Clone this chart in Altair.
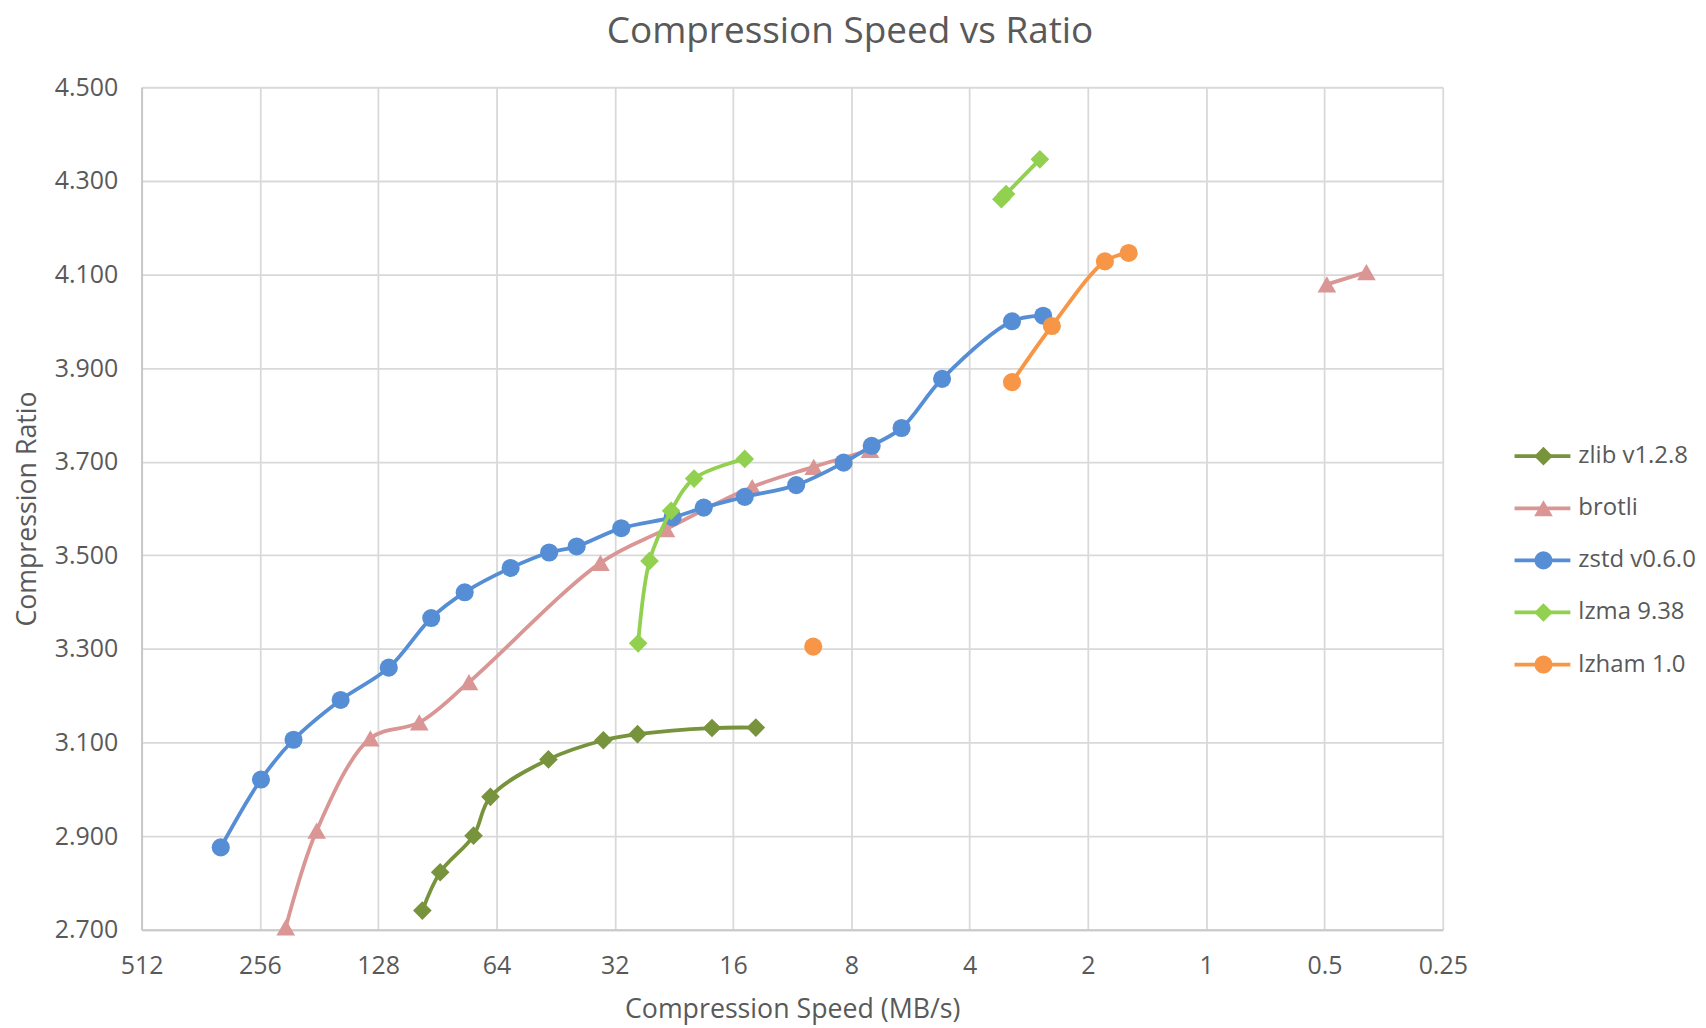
import altair as alt
import pandas as pd

SERIES = ["zlib v1.2.8", "brotli", "zstd v0.6.0", "lzma 9.38", "lzham 1.0"]
COLORS = ["#77933C", "#DA9694", "#558ED5", "#92D050", "#F79646"]
SHAPES = ["diamond", "triangle-up", "circle", "diamond", "circle"]
SIZES = [350, 350, 330, 350, 330]

zlib_speed = [98.8, 89.0, 73.2, 66.3, 47.2, 34.2, 28.0, 18.1, 14.0]
zlib_ratio = [2.741, 2.823, 2.901, 2.984, 3.064, 3.105, 3.118, 3.131, 3.132]
zlib_seg = [0, 0, 0, 0, 0, 0, 0, 0, 0]

brotli_speed = [220.0, 183.5, 134.0, 100.6, 75.2, 34.8, 23.7, 14.3, 9.97, 7.17, 0.493, 0.391]
brotli_ratio = [2.705, 2.912, 3.109, 3.143, 3.229, 3.484, 3.556, 3.646, 3.689, 3.725, 4.079, 4.105]
brotli_seg = [0, 0, 0, 0, 0, 0, 0, 0, 0, 0, 1, 1]

zstd_speed = [322.0, 254.4, 210.2, 159.5, 120.3, 93.8, 77.1, 58.9, 47.0, 40.0, 30.8,
              22.8, 19.0, 14.94, 11.05, 8.37, 7.1, 5.96, 4.7, 3.12, 2.60]
zstd_ratio = [2.876, 3.021, 3.106, 3.191, 3.260, 3.366, 3.421, 3.473, 3.506, 3.519, 3.558,
              3.581, 3.602, 3.625, 3.650, 3.698, 3.734, 3.772, 3.877, 4.000, 4.012]
zstd_seg = [0] * 21

lzma_speed = [27.9, 26.1, 23.0, 20.1, 14.94, 3.32, 3.23, 2.65]
lzma_ratio = [3.312, 3.488, 3.595, 3.664, 3.706, 4.261, 4.272, 4.346]
lzma_seg = [0, 0, 0, 0, 0, 1, 1, 1]

lzham_speed = [10.0, 3.12, 2.47, 1.81, 1.575]
lzham_ratio = [3.305, 3.870, 3.990, 4.128, 4.146]
lzham_seg = [0, 1, 1, 1, 1]

X_TICKS = [512, 256, 128, 64, 32, 16, 8, 4, 2, 1, 0.5, 0.25]
Y_TICKS = [2.7, 2.9, 3.1, 3.3, 3.5, 3.7, 3.9, 4.1, 4.3, 4.5]

FONT = "Open Sans"
TEXT = "#595959"

rows = []
for name, sp, ra, sg in [
    (SERIES[0], zlib_speed, zlib_ratio, zlib_seg),
    (SERIES[1], brotli_speed, brotli_ratio, brotli_seg),
    (SERIES[2], zstd_speed, zstd_ratio, zstd_seg),
    (SERIES[3], lzma_speed, lzma_ratio, lzma_seg),
    (SERIES[4], lzham_speed, lzham_ratio, lzham_seg),
]:
    for s, r, g in zip(sp, ra, sg):
        rows.append({"series": name, "speed": s, "ratio": r, "seg": g})
df = pd.DataFrame(rows)

W, H = 1305, 845

color = alt.Color("series:N", scale=alt.Scale(domain=SERIES, range=COLORS), legend=None)
shape = alt.Shape("series:N", scale=alt.Scale(domain=SERIES, range=SHAPES), legend=None)

X = alt.X(
    "speed:Q",
    scale=alt.Scale(type="log", base=2, domain=[0.25, 512], reverse=True),
    axis=alt.Axis(values=X_TICKS, labelExpr="toString(datum.value)", labelPadding=24,
                  labelFlush=False, labelOverlap=False,
                  title="Compression Speed (MB/s)", titleX=W / 2, titleY=80,
                  titleAlign="center", titleBaseline="middle"),
)
Y = alt.Y(
    "ratio:Q",
    scale=alt.Scale(domain=[2.7, 4.5], nice=False, zero=False),
    axis=alt.Axis(values=Y_TICKS, format=".3f", labelPadding=24, title="Compression Ratio",
                  titleX=-114, titleY=H / 2, titleAngle=-90,
                  titleAlign="center", titleBaseline="middle"),
)

base = alt.Chart(df).encode(x=X, y=Y, color=color)

main_layers = []
for i, name in enumerate(SERIES):
    sub = base.transform_filter(alt.datum.series == name)
    main_layers.append(
        sub.mark_line(strokeWidth=3.8, interpolate="catmull-rom").encode(detail="seg:N")
    )
    main_layers.append(
        sub.mark_point(filled=True, opacity=1, size=SIZES[i]).encode(shape=shape)
    )

leg_df = pd.DataFrame({"series": SERIES, "msize": SIZES})
LY = alt.Y("series:N", scale=alt.Scale(type="point", domain=SERIES, range=[370, 579], padding=0), axis=None)
leg = alt.Chart(leg_df)
legend_layers = [
    leg.mark_rule(strokeWidth=3.8).encode(x=alt.value(1377), x2=alt.value(1433), y=LY, color=color),
    leg.mark_point(filled=True, opacity=1).encode(
        x=alt.value(1406), y=LY, color=color, shape=shape,
        size=alt.Size("msize:Q", scale=None, legend=None)),
    leg.mark_text(align="left", baseline="middle", font=FONT, fontSize=24, color=TEXT).encode(
        x=alt.value(1441), y=LY, text="series:N"),
]

chart = alt.layer(
    alt.layer(*main_layers),
    alt.layer(*legend_layers),
).resolve_scale(y="independent").properties(
    width=W,
    height=H,
    title=alt.TitleParams("Compression Speed vs Ratio", font=FONT, fontSize=37,
                          fontWeight="normal", color=TEXT, anchor="middle", dx=58, offset=24),
    padding={"left": 7, "top": 4, "right": 2, "bottom": 2},
    background="white",
).configure_view(stroke=None).configure_axis(
    labelFont=FONT, labelFontSize=25, labelColor=TEXT,
    titleFont=FONT, titleFontSize=26.8, titleFontWeight="normal", titleColor=TEXT,
    gridColor="#D9D9D9", gridWidth=1.8, domainColor="#C8C8C8", domainWidth=2,
    ticks=False,
)

chart.save("out.html", embed_options={"renderer": "svg", "actions": False})
